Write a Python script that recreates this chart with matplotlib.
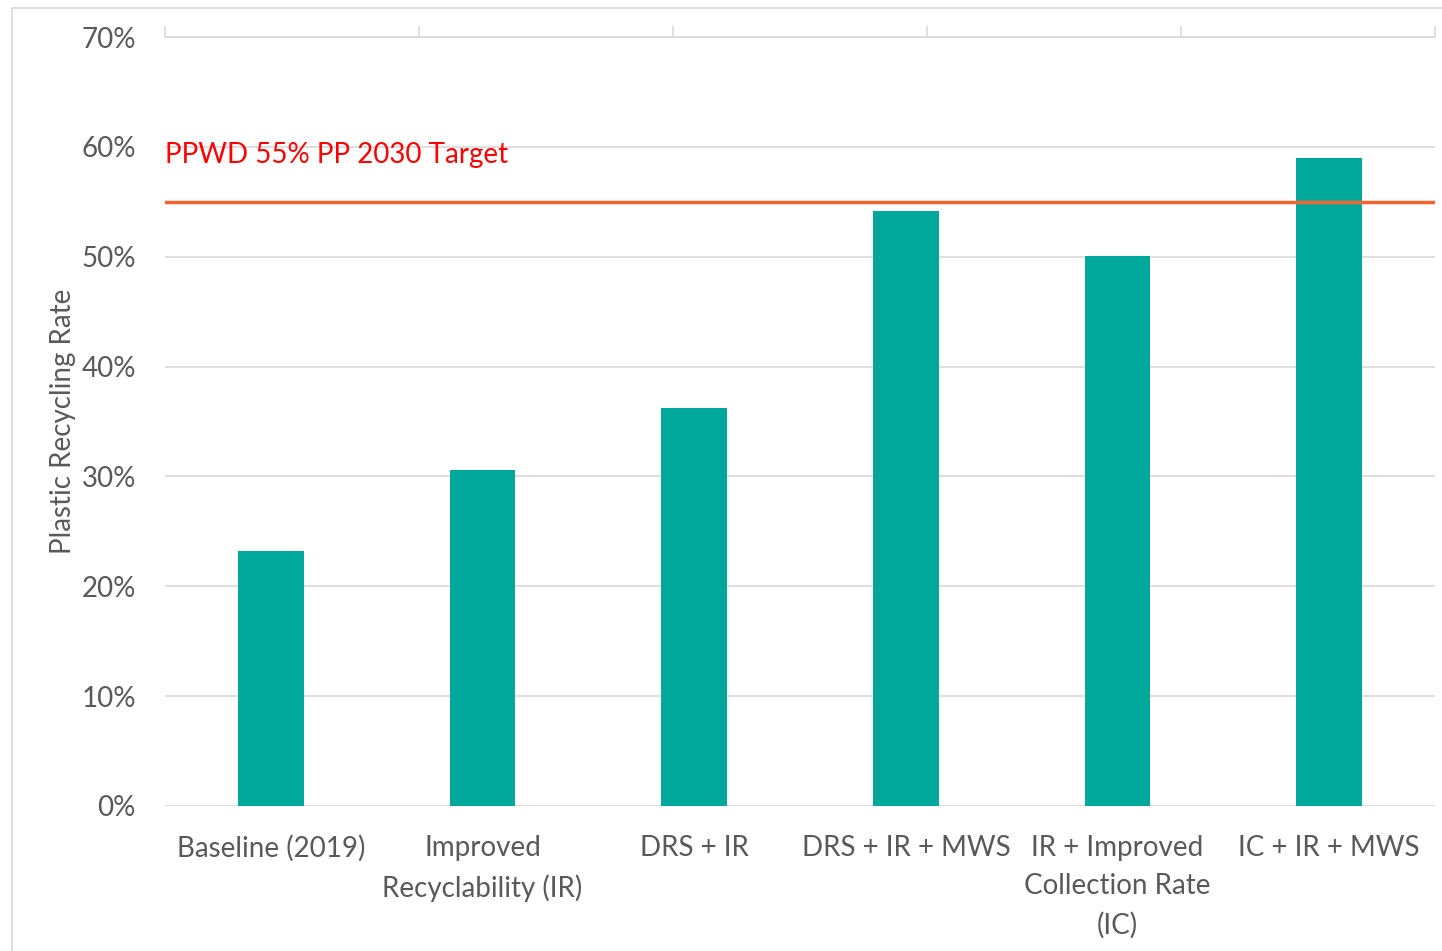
import matplotlib
matplotlib.use('Agg')
import matplotlib.pyplot as plt
from matplotlib.patches import Rectangle
from matplotlib.ticker import FuncFormatter

plt.rcParams['font.family'] = ['Lato', 'DejaVu Sans']

# Data
categories = ['Baseline (2019)', 'Improved\nRecyclability (IR)', 'DRS + IR',
              'DRS + IR + MWS', 'IR + Improved\nCollection Rate\n(IC)', 'IC + IR + MWS']
rates = [23.2, 30.6, 36.2, 54.2, 50.1, 59.0]
target = 55.0
target_label = 'PPWD 55% PP 2030 Target'
yticks = [0, 10, 20, 30, 40, 50, 60, 70]

W, H = 1442, 951
fig = plt.figure(figsize=(W / 100, H / 100), dpi=100)
fig.patch.set_facecolor('white')

# Light outer frame
fig.patches.append(Rectangle((12 / W, -0.1), 1.2, (H - 8) / H + 0.1,
                             transform=fig.transFigure, fill=False,
                             edgecolor='#d9d9d9', linewidth=1.2))

ax = fig.add_axes([165 / W, (H - 806) / H, (1435 - 165) / W, (806 - 37) / H])

text_color = '#595959'
grid_color = '#d9d9d9'
bar_color = '#00a89c'
fs = 20

x = list(range(len(categories)))
ax.bar(x, rates, width=0.31, color=bar_color, zorder=3)
ax.axhline(target, color='#f26531', linewidth=2.5, zorder=4)
ax.text(-0.5, 59.3, target_label, color='#ff0000', fontsize=fs,
        ha='left', va='center', zorder=5)

ax.set_xlim(-0.5, len(categories) - 0.5)
ax.set_ylim(0, 70)
ax.set_yticks(yticks)
ax.yaxis.set_major_formatter(FuncFormatter(lambda v, p: '%d%%' % v))
ax.set_xticks(x)
ax.set_xticklabels(categories, fontsize=fs, color=text_color, linespacing=1.58)
ax.tick_params(axis='x', length=0, pad=21)
ax.tick_params(axis='y', length=0, pad=21, labelsize=fs, labelcolor=text_color)
ax.grid(axis='y', color=grid_color, linewidth=1.2, zorder=0)
ax.set_ylabel('Plastic Recycling Rate', fontsize=fs, color=text_color)
ax.yaxis.set_label_coords(-0.07, 0.5)

for s in ['left', 'right', 'bottom']:
    ax.spines[s].set_visible(False)
ax.spines['top'].set_color(grid_color)
ax.spines['top'].set_linewidth(1.2)

# Secondary top axis with tick marks
ax2 = ax.twiny()
ax2.set_xlim(0, 5)
ax2.set_xticks([0, 1, 2, 3, 4, 5])
ax2.set_xticklabels([])
ax2.tick_params(axis='x', direction='out', length=8, width=1.2, color=grid_color)
for s in ['left', 'right', 'bottom', 'top']:
    ax2.spines[s].set_visible(False)

fig.savefig('out.png', dpi=100)
